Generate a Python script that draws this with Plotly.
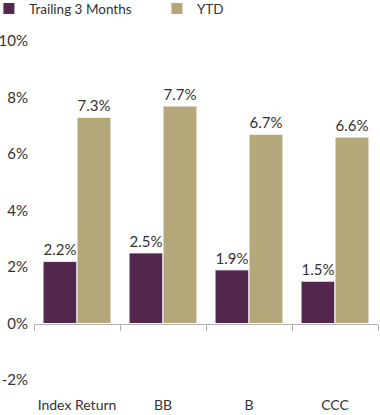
import plotly.graph_objects as go

categories = ["Index Return", "BB", "B", "CCC"]
trailing_3m = [2.2, 2.5, 1.9, 1.5]
ytd = [7.3, 7.7, 6.7, 6.6]
y_tick_vals = [-2, 0, 2, 4, 6, 8, 10]
y_tick_text = ["-2%", "0%", "2%", "4%", "6%", "8%", "10%"]

FONT = "Lato"
TXT = "#333333"
PURPLE = "#52284f"
GOLD = "#b4a87b"

fig = go.Figure()
fig.add_trace(go.Bar(
    name="Trailing 3 Months", x=categories, y=trailing_3m,
    marker=dict(color=PURPLE, line=dict(color="white", width=1)),
    texttemplate="%{y:.1f}%", textposition="outside",
    textfont=dict(family=FONT, size=15, color=TXT), cliponaxis=False,
))
fig.add_trace(go.Bar(
    name="YTD", x=categories, y=ytd,
    marker=dict(color=GOLD, line=dict(color="white", width=1)),
    texttemplate="%{y:.1f}%", textposition="outside",
    textfont=dict(family=FONT, size=15, color=TXT), cliponaxis=False,
))
# invisible trace to activate secondary x axis for the zero line with ticks
fig.add_trace(go.Scatter(x=[-0.5, 3.5], y=[0, 0], xaxis="x2", mode="lines",
                         line=dict(width=0), showlegend=False, hoverinfo="skip"))

fig.update_layout(
    width=380, height=415,
    margin=dict(l=34, r=2, t=41, b=35, autoexpand=False),
    paper_bgcolor="white", plot_bgcolor="white",
    font=dict(family=FONT, size=14, color=TXT),
    barmode="group", bargap=0.21, bargroupgap=0,
    showlegend=True,
    legend=dict(orientation="h", x=-0.131, y=1.141,
                yanchor="top", xanchor="left", font=dict(size=13.5, color=TXT),
                entrywidth=123, entrywidthmode="pixels", tracegroupgap=0,
                bgcolor="rgba(0,0,0,0)"),
    yaxis=dict(range=[-2, 10], tickvals=y_tick_vals, ticktext=y_tick_text,
               showgrid=False, zeroline=False, showline=False, automargin=False,
               tickfont=dict(size=15, color=TXT), ticks="", ticklabelstandoff=5),
    xaxis=dict(range=[-0.5, 3.5], showline=False, showgrid=False, zeroline=False,
               automargin=False,
               ticks="", tickfont=dict(size=14, color=TXT), ticklabelstandoff=15),
    xaxis2=dict(overlaying="x", anchor="free", position=1/6, range=[-0.5, 3.5],
                showline=True, linecolor="#b0b0b0", linewidth=1,
                ticks="outside", ticklen=6, tickcolor="#b0b0b0",
                tickvals=[-0.5, 0.5, 1.5, 2.5, 3.5], showticklabels=False,
                showgrid=False, zeroline=False, automargin=False),
)

fig.write_html("out.html", config={"displayModeBar": False},
               post_script="document.body.style.margin='0';")
